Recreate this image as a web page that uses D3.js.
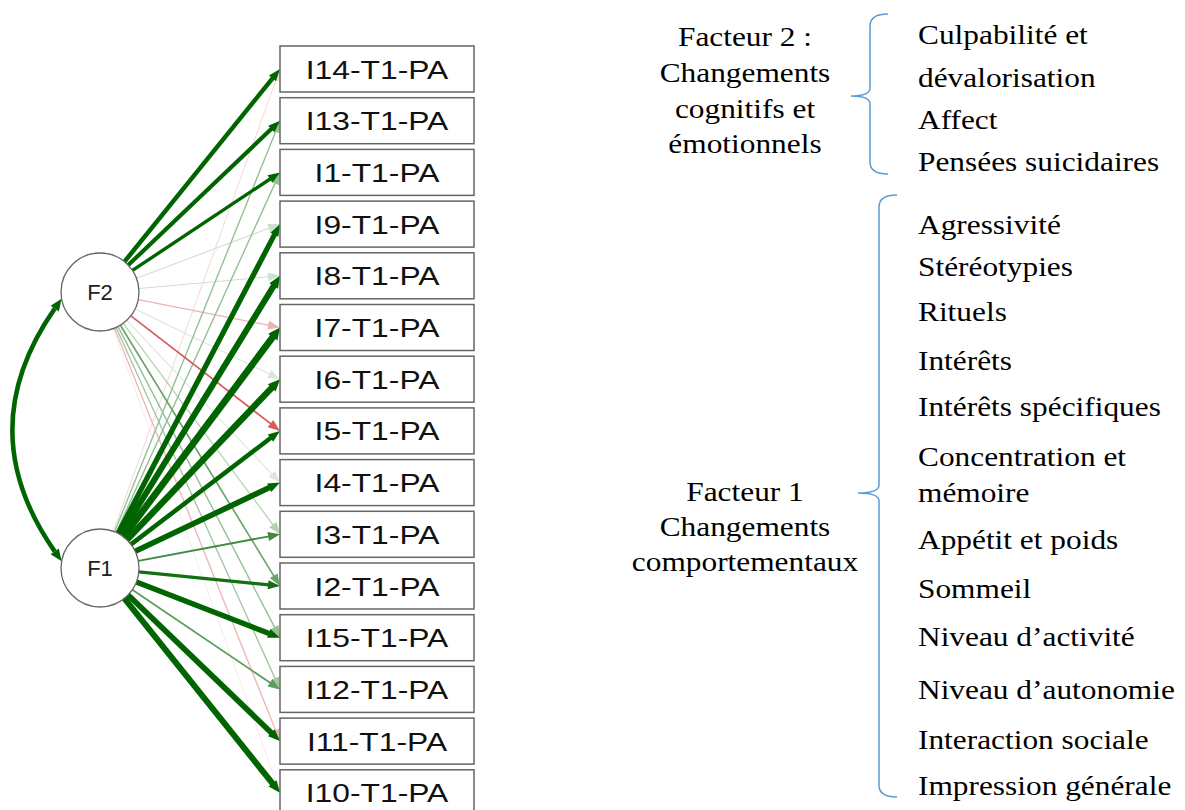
<!DOCTYPE html>
<html><head><meta charset="utf-8">
<script src="https://cdn.jsdelivr.net/npm/d3@7"></script>
<style>html,body{margin:0;padding:0;background:#fff;overflow:hidden}</style>
</head><body><svg id="chart" width="1185" height="810"></svg>
<script>
// ---- data ----
const items = ["I14-T1-PA","I13-T1-PA","I1-T1-PA","I9-T1-PA","I8-T1-PA","I7-T1-PA","I6-T1-PA","I5-T1-PA","I4-T1-PA","I3-T1-PA","I2-T1-PA","I15-T1-PA","I12-T1-PA","I11-T1-PA","I10-T1-PA"];
const factors = ["F2","F1"];
const loadF1 = [-0.08,0.2,0.2,0.7,0.8,0.9,0.85,0.6,0.75,0.35,0.42,0.72,0.3,0.75,0.8];
const loadF2 = [0.6,0.55,0.45,0.1,0.1,-0.15,0.08,-0.3,0.08,0.15,0.28,0.2,0.18,-0.15,-0.05];
const factorCorr = 0.6;
const f2Title = ["Facteur 2 :","Changements","cognitifs et","émotionnels"];
const f1Title = ["Facteur 1","Changements","comportementaux"];
const f2Items = ["Culpabilité et","dévalorisation","Affect","Pensées suicidaires"];
const f1Items = ["Agressivité","Stéréotypies","Rituels","Intérêts","Intérêts spécifiques","Concentration et","mémoire","Appétit et poids","Sommeil","Niveau d’activité","Niveau d’autonomie","Interaction sociale","Impression générale"];
const f2ItemY = [35,78,120,162];
const f1ItemY = [225,267,312,361,407,457,493,540,589,637,690,740,786];

// ---- layout ----
const svg = d3.select("#chart");
const boxX = 280, boxW = 194, boxH = 46;
const yBox = d3.scalePoint().domain(items).range([46, 46 + 14*51.7]);
const yFac = d3.scalePoint().domain(factors).range([292, 568]);
const facX = 100, facR = 39;
const green = "#006400", red = "#c00000";
const colorOf = v => d3.interpolateRgb("#ffffff", v >= 0 ? green : red)(Math.min(1, Math.pow(Math.abs(v)/0.45, 1.1)));
const widthOf = v => { const a = Math.abs(v); return a < 0.4 ? 0.8 + a*3 : a*7.5; };

const edges = [];
items.forEach((it,i)=>{
  edges.push({f:"F1", item:it, v:loadF1[i]});
  edges.push({f:"F2", item:it, v:loadF2[i]});
});
edges.sort((a,b)=>Math.abs(a.v)-Math.abs(b.v));

const gE = svg.append("g");
edges.forEach(e=>{
  const cx = facX, cy = yFac(e.f);
  const tx = boxX, ty = yBox(e.item) + boxH/2;
  const dx = tx-cx, dy = ty-cy, L = Math.hypot(dx,dy);
  const ux = dx/L, uy = dy/L;
  const sx = cx + ux*facR, sy = cy + uy*facR;
  const w = widthOf(e.v), c = colorOf(e.v);
  const aL = 12, aW = Math.max(9, w*1.7);
  const bx = tx - ux*aL, by = ty - uy*aL;
  gE.append("line").attr("x1",sx).attr("y1",sy).attr("x2",bx+ux*1).attr("y2",by+uy*1)
    .attr("stroke",c).attr("stroke-width",w);
  gE.append("polygon").attr("points",[[tx,ty],[bx - uy*aW/2, by + ux*aW/2],[bx + uy*aW/2, by - ux*aW/2]].map(p=>p.join(",")).join(" "))
    .attr("fill",c);
});

// correlation curve
(function(){
  const a1 = Math.PI*190/180, a2 = Math.PI*170/180;
  const p0 = [facX + facR*Math.cos(a1), yFac("F2") - facR*Math.sin(a1)];
  const p2 = [facX + facR*Math.cos(a2), yFac("F1") - facR*Math.sin(a2)];
  const p1 = [-30, (yFac("F2")+yFac("F1"))/2];
  const w = widthOf(factorCorr), c = colorOf(factorCorr), aL = 12, aW = 10;
  const dir0 = [p0[0]-p1[0], p0[1]-p1[1]], l0 = Math.hypot(...dir0); const u0 = [dir0[0]/l0, dir0[1]/l0];
  const dir2 = [p2[0]-p1[0], p2[1]-p1[1]], l2 = Math.hypot(...dir2); const u2 = [dir2[0]/l2, dir2[1]/l2];
  const s0 = [p0[0]-u0[0]*aL, p0[1]-u0[1]*aL], s2 = [p2[0]-u2[0]*aL, p2[1]-u2[1]*aL];
  const path = d3.path(); path.moveTo(...s0); path.quadraticCurveTo(p1[0], p1[1], ...s2);
  svg.append("path").attr("d", path.toString()).attr("fill","none").attr("stroke",c).attr("stroke-width",w);
  [[p0,u0],[p2,u2]].forEach(([p,u])=>{
    const b = [p[0]-u[0]*aL, p[1]-u[1]*aL];
    svg.append("polygon").attr("points",[p,[b[0]-u[1]*aW/2,b[1]+u[0]*aW/2],[b[0]+u[1]*aW/2,b[1]-u[0]*aW/2]].map(q=>q.join(",")).join(" ")).attr("fill",c);
  });
})();

// factor circles
const gF = svg.append("g").selectAll("g").data(factors).join("g");
gF.append("circle").attr("cx",facX).attr("cy",d=>yFac(d)).attr("r",facR)
  .attr("fill","#fff").attr("stroke","#666").attr("stroke-width",1.3);
gF.append("text").attr("x",facX).attr("y",d=>yFac(d)).attr("dy","0.36em").attr("text-anchor","middle")
  .attr("font-family","Liberation Sans, Arial, sans-serif").attr("font-size",22).attr("fill","#222").text(d=>d);

// item boxes
const gB = svg.append("g").selectAll("g").data(items).join("g");
gB.append("rect").attr("x",boxX).attr("y",d=>yBox(d)).attr("width",boxW).attr("height",boxH)
  .attr("fill","#fff").attr("stroke","#666").attr("stroke-width",1.5);
gB.append("text").attr("transform",d=>`translate(${boxX+boxW/2},${yBox(d)+boxH/2}) scale(1.2,1)`)
  .attr("dy","0.36em").attr("text-anchor","middle")
  .attr("font-family","Liberation Sans, Arial, sans-serif").attr("font-size",26.5).attr("fill","#111").text(d=>d);

// right side text
const serif = "Liberation Serif, Times New Roman, serif";
const fs = 28, sxs = 1.12;
function txt(x,y,s,anchor){
  svg.append("text").attr("transform",`translate(${x},${y}) scale(${sxs},1)`).attr("dy","0.33em")
    .attr("text-anchor",anchor).attr("font-family",serif).attr("font-size",fs).attr("fill","#000").text(s);
}
const yT2 = d3.scalePoint().domain(f2Title).range([37,144]);
f2Title.forEach(s=>txt(745, yT2(s), s, "middle"));
const yT1 = d3.scalePoint().domain(f1Title.map((s,i)=>i)).range([492,562]);
f1Title.forEach((s,i)=>txt(745, yT1(i), s, "middle"));
f2Items.forEach((s,i)=>txt(918, f2ItemY[i], s, "start"));
f1Items.forEach((s,i)=>txt(918, f1ItemY[i], s, "start"));

// braces
function brace(xR, xV, xT, yTop, yMid, yBot){
  const r = 12, p = d3.path();
  p.moveTo(xR, yTop); p.quadraticCurveTo(xV, yTop, xV, yTop+r);
  p.lineTo(xV, yMid-r/1.5); p.quadraticCurveTo(xV, yMid, xT, yMid);
  p.quadraticCurveTo(xV, yMid, xV, yMid+r/1.5);
  p.lineTo(xV, yBot-r); p.quadraticCurveTo(xV, yBot, xR, yBot);
  svg.append("path").attr("d",p.toString()).attr("fill","none").attr("stroke","#5b9bd5").attr("stroke-width",1.5);
}
brace(888, 870, 851, 14, 96, 174);
brace(897, 879, 858, 195, 493, 797);
</script></body></html>
